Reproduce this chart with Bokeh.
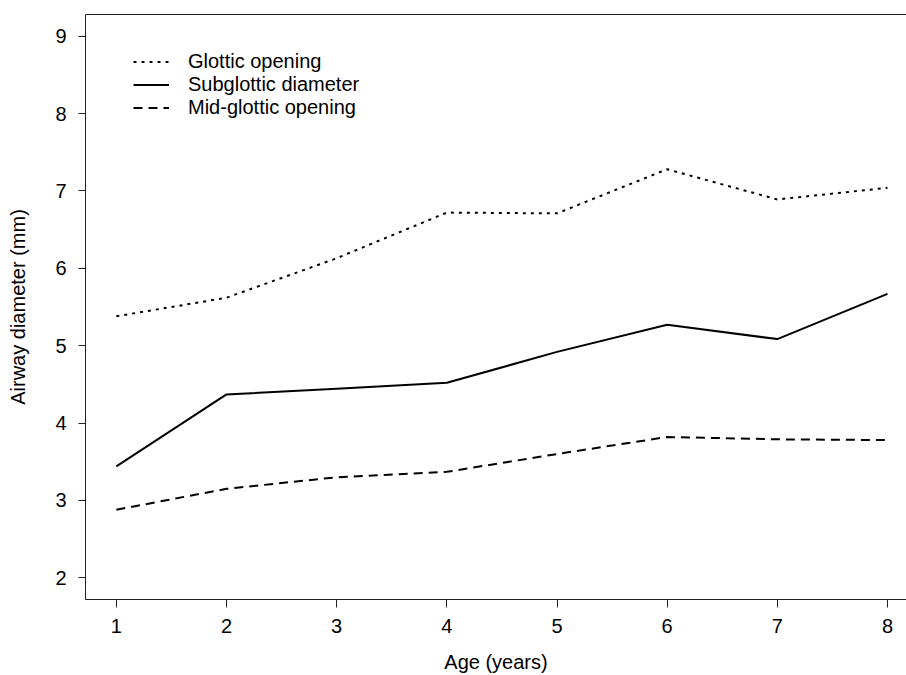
from bokeh.plotting import figure
from bokeh.models import Range1d, FixedTicker, LinearAxis, Legend, LegendItem
from bokeh.embed import file_html
from bokeh.resources import INLINE

ages = [1, 2, 3, 4, 5, 6, 7, 8]
glottic = [5.38, 5.62, 6.13, 6.72, 6.71, 7.28, 6.89, 7.04]
subglottic = [3.44, 4.37, 4.445, 4.52, 4.92, 5.27, 5.085, 5.67]
midglottic = [2.88, 3.15, 3.30, 3.37, 3.60, 3.82, 3.79, 3.78]
x_ticks = [1, 2, 3, 4, 5, 6, 7, 8]
y_ticks = [2, 3, 4, 5, 6, 7, 8, 9]

FONT = "Liberation Sans"
FS = "20px"

p = figure(width=906, height=675, output_backend="svg", toolbar_location=None,
           x_range=Range1d(0.72, 8.1725), y_range=Range1d(1.72, 9.28),
           min_border_left=85, min_border_right=0, min_border_top=14, min_border_bottom=75,
           x_axis_label="Age (years)", y_axis_label="Airway diameter (mm)")
p.grid.visible = False
p.outline_line_color = None
p.background_fill_color = "white"
p.border_fill_color = "white"

for ax, ticks in ((p.xaxis[0], x_ticks), (p.yaxis[0], y_ticks)):
    ax.ticker = FixedTicker(ticks=ticks)
    ax.minor_tick_line_color = None
    ax.major_tick_in = 0
    ax.axis_line_color = "#222222"
    ax.major_tick_line_color = "#222222"
    ax.major_label_text_font = FONT
    ax.major_label_text_font_size = FS
    ax.major_label_text_color = "black"
    ax.axis_label_text_font = FONT
    ax.axis_label_text_font_size = FS
    ax.axis_label_text_font_style = "normal"
    ax.axis_label_text_color = "black"

p.xaxis[0].major_tick_out = 8
p.xaxis[0].major_label_standoff = 11
p.xaxis[0].axis_label_standoff = 15
p.yaxis[0].major_tick_out = 7
p.yaxis[0].major_label_standoff = 12
p.yaxis[0].axis_label_standoff = 23
p.yaxis[0].major_label_orientation = "horizontal"

top = LinearAxis(ticker=FixedTicker(ticks=[]), axis_line_color="#222222",
                 major_tick_line_color=None, minor_tick_line_color=None,
                 major_label_text_font_size="0px", major_tick_out=0, major_tick_in=0,
                 major_label_standoff=0)
p.add_layout(top, "above")

r1 = p.line(ages, glottic, line_color="black", line_width=2, line_dash="3 5")
r2 = p.line(ages, subglottic, line_color="black", line_width=2)
r3 = p.line(ages, midglottic, line_color="black", line_width=2, line_dash="9 6")

legend = Legend(items=[LegendItem(label="Glottic opening", renderers=[r1]),
                       LegendItem(label="Subglottic diameter", renderers=[r2]),
                       LegendItem(label="Mid-glottic opening", renderers=[r3])],
                location=(48, 480), border_line_color=None, background_fill_alpha=0,
                padding=0, margin=0, spacing=0, glyph_width=36, glyph_height=23,
                label_height=23, label_standoff=19,
                label_text_font=FONT, label_text_font_size=FS, label_text_color="black")
p.add_layout(legend, "center")

open("out.html", "w").write(file_html(p, INLINE))
